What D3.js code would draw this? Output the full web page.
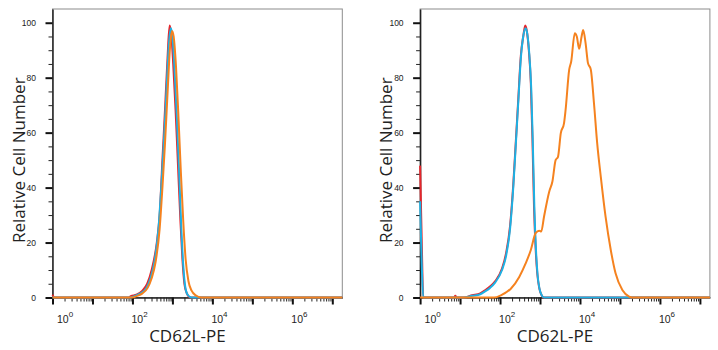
<!DOCTYPE html>
<html>
<head>
<meta charset="utf-8">
<script src="https://cdn.jsdelivr.net/npm/d3@7"></script>
<style>
  body { margin: 0; background: #fff; }
  svg { display: block; }
</style>
</head>
<body>
<script>
const width = 718
const height = 350

// fluorescence intensity (CD62L-PE) vs relative cell number
// panel A: control (red), isotype (cyan), CD62L (orange)
const leftRed = [[1, 1], [1.12, 0], [79, 0], [91, 0.5], [126, 1], [178, 2.5], [234, 5], [302, 10],
    [407, 20], [479, 30], [562, 50], [661, 70], [759, 88], [851, 99], [933, 96], [1047, 85],
    [1202, 68], [1380, 48], [1585, 28], [1778, 14], [1995, 5], [2291, 1.5], [2818, 0], [17800000, 0]]
const leftCyan = [[1, 0], [89, 0], [112, 0.5], [158, 1.5], [224, 3.5], [282, 7], [355, 13], [447, 25],
    [525, 40], [603, 55], [708, 75], [813, 92], [912, 98], [1000, 95], [1122, 84], [1288, 66],
    [1479, 45], [1660, 26], [1862, 12], [2089, 4], [2399, 1], [3020, 0], [17800000, 0]]
const leftOrange = [[1, 0], [100, 0], [126, 0.5], [178, 1.5], [240, 3.5], [302, 7], [380, 13], [479, 25],
    [562, 40], [646, 55], [759, 75], [871, 91], [977, 97], [1072, 95], [1230, 84], [1413, 66],
    [1622, 46], [1862, 28], [2138, 14], [2512, 6], [3020, 2.5], [3802, 0.8], [5248, 0], [17800000, 0]]

// panel B
const rightRed = [[1, 48], [1.1, 20], [1.2, 0], [7.1, 0], [7.6, 0.6], [8.3, 0], [12.6, 0], [20, 0.8],
    [32, 1.5], [43, 2.7], [56, 4], [76, 6], [112, 10.5], [141, 16], [178, 26], [214, 41], [251, 58],
    [288, 73], [331, 88], [380, 95], [427, 99], [468, 97], [525, 90], [589, 78], [646, 58], [708, 33],
    [776, 18], [851, 9], [955, 3.5], [1096, 0.8], [1230, 0], [17800000, 0]]
const rightCyan = [[1, 35], [1.1, 12], [1.2, 0], [12.6, 0], [20, 0.6], [32, 1.2], [43, 2.3], [56, 3.5],
    [76, 5.5], [112, 10], [141, 15], [178, 25], [214, 40], [251, 57], [288, 72], [331, 87], [380, 95],
    [437, 98], [479, 96], [537, 89], [603, 76], [661, 56], [724, 32], [794, 17], [871, 8], [977, 3],
    [1122, 0.6], [1259, 0], [17800000, 0]]
const rightOrange = [[1, 0], [71, 0], [105, 0.8], [186, 3.2], [302, 7.5], [437, 12.4], [589, 17.3],
    [776, 23.4], [955, 24.3], [1072, 24], [1259, 29.4], [1698, 38.5], [2042, 42.2], [2455, 50],
    [2818, 51.2], [3311, 59.8], [3981, 63.4], [4365, 68.3], [5370, 82.9], [6026, 85.9], [7413, 96.2],
    [8318, 95], [9550, 90.5], [10965, 95], [12023, 97.4], [13804, 92.6], [15849, 85.3], [18621, 83],
    [22387, 70.7], [26915, 56.2], [33113, 44], [43652, 29.4], [58884, 17.3], [77625, 8.8],
    [114815, 2.7], [169824, 0.3], [199526, 0], [17800000, 0]]

const xDomain = [1, Math.pow(10, 7.25)]
const yDomain = [0, 105]
const decades = [0, 1, 2, 3, 4, 5, 6, 7]
const labelDecades = [0, 2, 4, 6]
const yMajor = [0, 20, 40, 60, 80, 100]
const yMinor = [5, 10, 15, 25, 30, 35, 45, 50, 55, 65, 70, 75, 85, 90, 95]
const colors = ['#e5252b', '#1db1e4', '#f5821f']
const xTitle = 'CD62L-PE'
const yTitle = 'Relative Cell Number'

const panels = [
    { dx: 0, series: [leftRed, leftCyan, leftOrange] },
    { dx: 367.6, series: [rightRed, rightCyan, rightOrange] }
]

const svg = d3.select('body')
    .append('svg')
    .attr('width', width)
    .attr('height', height)

const x = d3.scaleLog().domain(xDomain).range([52.5, 342.3])
const y = d3.scaleLinear().domain(yDomain).range([297.5, 9])

const majorX = decades.map(d => Math.pow(10, d))
const minorX = []
decades.forEach(d => {
    for (let k = 2; k <= 9; k++) {
        const v = k * Math.pow(10, d)
        if (v < xDomain[1]) minorX.push(v)
    }
})

panels.forEach(p => drawPanel(svg.append('g').attr('transform', `translate(${p.dx},0)`), p.series))

function drawPanel(g, series) {
    const [x0, x1] = x.range()
    const [y0, y1] = y.range()

    // frame
    g.append('rect')
        .attr('x', x0)
        .attr('y', y1)
        .attr('width', x1 - x0)
        .attr('height', y0 - y1)
        .attr('fill', 'none')
        .attr('stroke', '#8c8c8c')
        .attr('stroke-width', 1)

    // x axis ticks
    g.append('g')
        .attr('transform', `translate(0,${y0})`)
        .style('color', '#222')
        .call(d3.axisBottom(x).tickValues(minorX).tickSize(4).tickSizeOuter(0).tickFormat(''))
        .call(a => a.select('.domain').attr('stroke-width', 1.5))
    g.append('g')
        .attr('transform', `translate(0,${y0})`)
        .style('color', '#111')
        .call(d3.axisBottom(x).tickValues(majorX).tickSize(7).tickSizeOuter(0).tickFormat(''))
        .call(a => a.select('.domain').remove())
        .call(a => a.selectAll('line').attr('stroke-width', 2))

    // y axis ticks
    g.append('g')
        .attr('transform', `translate(${x0},0)`)
        .style('color', '#222')
        .call(d3.axisLeft(y).tickValues(yMinor).tickSize(4).tickSizeOuter(0).tickFormat(''))
        .call(a => a.select('.domain').attr('stroke-width', 1.5))
    g.append('g')
        .attr('transform', `translate(${x0},0)`)
        .style('color', '#111')
        .call(d3.axisLeft(y).tickValues(yMajor).tickSize(7).tickSizeOuter(0).tickFormat(''))
        .call(a => a.select('.domain').remove())
        .call(a => a.selectAll('line').attr('stroke-width', 2))

    // y tick labels
    g.append('g')
        .selectAll('text')
        .data(yMajor)
        .enter()
        .append('text')
        .attr('x', 36)
        .attr('y', d => y(d) + 3)
        .attr('text-anchor', 'end')
        .attr('font-family', 'Liberation Sans, Arial, sans-serif')
        .attr('font-size', 8.5)
        .attr('fill', '#222')
        .text(d => d)

    // x tick labels 10^n
    const lab = g.append('g')
        .selectAll('text')
        .data(labelDecades)
        .enter()
        .append('text')
        .attr('x', d => Math.max(x(Math.pow(10, d)) - 1, x0 + 4.5))
        .attr('y', 323)
        .attr('font-family', 'Liberation Sans, Arial, sans-serif')
        .attr('font-size', 10.5)
        .attr('fill', '#222')
    lab.append('tspan').text('10')
    lab.append('tspan')
        .attr('dy', -6)
        .attr('font-size', 8)
        .text(d => d)

    // curves
    const line = d3.line()
        .x(d => x(d[0]))
        .y(d => y(d[1]))
        .curve(d3.curveMonotoneX)
    series.forEach((s, i) => {
        g.append('path')
            .datum(s)
            .attr('d', line)
            .attr('fill', 'none')
            .attr('stroke', colors[i])
            .attr('stroke-width', 2)
            .attr('stroke-linejoin', 'round')
    })

    // titles
    g.append('text')
        .attr('x', (x0 + x1) / 2 - 10)
        .attr('y', 342)
        .attr('text-anchor', 'middle')
        .attr('font-family', 'Open Sans, Noto Sans, sans-serif')
        .attr('font-size', 17)
        .attr('fill', '#222')
        .text(xTitle)
    g.append('text')
        .attr('transform', `translate(${x0 - 28},${(y0 + y1) / 2 + 7}) rotate(-90)`)
        .attr('text-anchor', 'middle')
        .attr('font-family', 'Open Sans, Noto Sans, sans-serif')
        .attr('font-size', 17)
        .attr('fill', '#222')
        .text(yTitle)
}
</script>
</body>
</html>
